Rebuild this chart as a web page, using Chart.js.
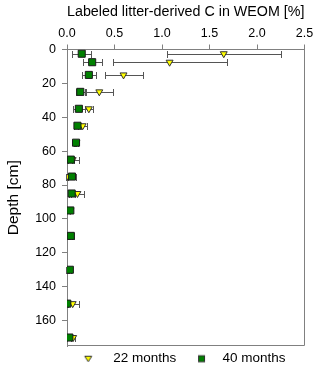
<!DOCTYPE html>
<html>
<head>
<meta charset="utf-8">
<script src="https://cdn.jsdelivr.net/npm/chart.js@4.4.1/dist/chart.umd.min.js"></script>
<style>
  html, body { margin: 0; padding: 0; background: #fff; }
  #wrap { width: 320px; height: 370px; }
</style>
</head>
<body>
<div id="wrap"><canvas id="chart"></canvas></div>
<script>
// depth of each sampled layer [cm]
const depths = [2.5, 7.5, 15, 25, 35, 45, 55, 65, 75, 85, 95, 110, 130, 150, 170];
// labeled litter-derived C in WEOM [%], mean and sd
const litter22 = [1.65, 1.08, 0.595, 0.34, 0.23, 0.165, 0.10, 0.06, 0.0, 0.11, 0.035, 0.03, 0.0, 0.06, 0.065];
const sd22 = [0.60, 0.60, 0.20, 0.14, 0.045, 0.045, 0.02, 0.065, 0.01, 0.07, 0.01, 0.02, 0.01, 0.065, 0.02];
const litter40 = [0.155, 0.265, 0.23, 0.14, 0.125, 0.11, 0.095, 0.04, 0.052, 0.049, 0.035, 0.04, 0.03, 0.003, 0.025];
const sd40 = [0.10, 0.10, 0.07, 0.045, 0.065, 0.04, 0.02, 0.03, 0.04, 0.03, 0.01, 0.035, 0.01, 0.005, 0.02];
const xTickValues = [0, 0.5, 1, 1.5, 2, 2.5];
const yTickValues = [0, 20, 40, 60, 80, 100, 120, 140, 160];
const seriesNames = ['22 months', '40 months'];

const font = 'Liberation Sans, Arial, sans-serif';
const axisGray = '#808080';

// small canvases used as legend markers
function legendIcon(kind, shift) {
    const c = document.createElement('canvas');
    c.width = 24; c.height = 12;
    const g = c.getContext('2d');
    const cx = 12 + shift;
    g.lineWidth = 1;
    g.strokeStyle = '#333';
    if (kind === 'tri') {
        g.fillStyle = '#ffff00';
        g.beginPath();
        g.moveTo(cx - 3.5, 3.5); g.lineTo(cx + 3.5, 3.5); g.lineTo(cx, 9);
        g.closePath();
        g.fill(); g.stroke();
    } else {
        g.fillStyle = '#008000';
        g.fillRect(cx - 3, 3, 6, 6);
        g.strokeRect(cx - 3, 3, 6, 6);
    }
    return c;
}
const legendIcons = [legendIcon('tri', -1.5), legendIcon('rect', 2.5)];

const errorBars = {
    id: 'errorBars',
    beforeDatasetsDraw(chart) {
        const { ctx, chartArea: a, scales: { x, y } } = chart;
        const sds = [sd22, sd40];
        ctx.save();
        // frame on right and bottom
        ctx.strokeStyle = axisGray;
        ctx.lineWidth = 1;
        ctx.beginPath();
        ctx.moveTo(Math.round(a.right) - 0.5, a.top);
        ctx.lineTo(Math.round(a.right) - 0.5, Math.round(a.bottom) - 0.5);
        ctx.lineTo(a.left, Math.round(a.bottom) - 0.5);
        ctx.stroke();

        ctx.strokeStyle = '#555';
        chart.data.datasets.forEach((ds, di) => {
            ds.data.forEach((p, i) => {
                const yy = Math.round(y.getPixelForValue(p.y)) + 0.5;
                const x1 = Math.round(x.getPixelForValue(p.x - sds[di][i])) + 0.5;
                const x2 = Math.round(x.getPixelForValue(p.x + sds[di][i])) + 0.5;
                ctx.beginPath();
                ctx.moveTo(x1, yy); ctx.lineTo(x2, yy);
                ctx.moveTo(x1, yy - 3.5); ctx.lineTo(x1, yy + 3.5);
                ctx.moveTo(x2, yy - 3.5); ctx.lineTo(x2, yy + 3.5);
                ctx.stroke();
            });
        });
        ctx.restore();
    }
};

const ctx = document.getElementById('chart').getContext('2d');
const chart = new Chart(ctx, {
    type: 'scatter',
    data: {
        datasets: [{
            label: seriesNames[0],
            data: depths.map((d, i) => ({ x: litter22[i], y: d })),
            pointStyle: 'triangle',
            rotation: 180,
            pointRadius: 4,
            backgroundColor: '#ffff00',
            borderColor: '#333',
            borderWidth: 1,
            order: 1
        }, {
            label: seriesNames[1],
            data: depths.map((d, i) => ({ x: litter40[i], y: d })),
            pointStyle: 'rect',
            pointRadius: 5,
            backgroundColor: '#008000',
            borderColor: '#1a1a1a',
            borderWidth: 1,
            order: 0
        }]
    },
    options: {
        responsive: true,
        maintainAspectRatio: false,
        animation: false,
        layout: { padding: { top: 0, left: 0, right: 15.5, bottom: -5.5 } },
        scales: {
            x: {
                type: 'linear',
                position: 'top',
                min: 0,
                max: 2.5,
                afterBuildTicks: (s) => { s.ticks = xTickValues.map(v => ({ value: v })); },
                afterFit: (s) => { s.height = 49.5; },
                border: { display: true, color: axisGray },
                grid: { drawOnChartArea: false, drawTicks: true, tickLength: 5, color: axisGray },
                ticks: {
                    color: '#000',
                    padding: 3,
                    maxRotation: 0,
                    font: { family: font, size: 12.5 },
                    callback: (v) => Number(v).toFixed(1)
                },
                title: {
                    display: true,
                    text: 'Labeled litter-derived C in WEOM [%]',
                    color: '#000',
                    padding: { top: 2.5, bottom: 0 },
                    font: { family: font, size: 15.5 }
                }
            },
            y: {
                type: 'linear',
                reverse: true,
                min: 0,
                max: 175,
                afterBuildTicks: (s) => { s.ticks = yTickValues.map(v => ({ value: v })); },
                afterFit: (s) => { s.width = 67; },
                border: { display: true, color: axisGray },
                grid: { drawOnChartArea: false, drawTicks: true, tickLength: 5, color: axisGray },
                ticks: {
                    color: '#000',
                    padding: 6,
                    font: { family: font, size: 12.5 }
                },
                title: {
                    display: true,
                    text: 'Depth [cm]',
                    color: '#000',
                    padding: { top: 4, bottom: 0 },
                    font: { family: font, size: 15.5 }
                }
            }
        },
        plugins: {
            tooltip: { enabled: false },
            legend: {
                position: 'bottom',
                align: 'start',
                fullSize: false,
                labels: {
                    usePointStyle: true,
                    pointStyleWidth: 33.5,
                    padding: 6,
                    color: '#000',
                    font: { family: font, size: 13.5 },
                    sort: (a, b) => a.datasetIndex - b.datasetIndex,
                    generateLabels: (c) => Chart.defaults.plugins.legend.labels.generateLabels(c)
                        .map(item => Object.assign(item, { pointStyle: legendIcons[item.datasetIndex], rotation: 0 }))
                }
            }
        }
    },
    plugins: [errorBars]
});
</script>
</body>
</html>
